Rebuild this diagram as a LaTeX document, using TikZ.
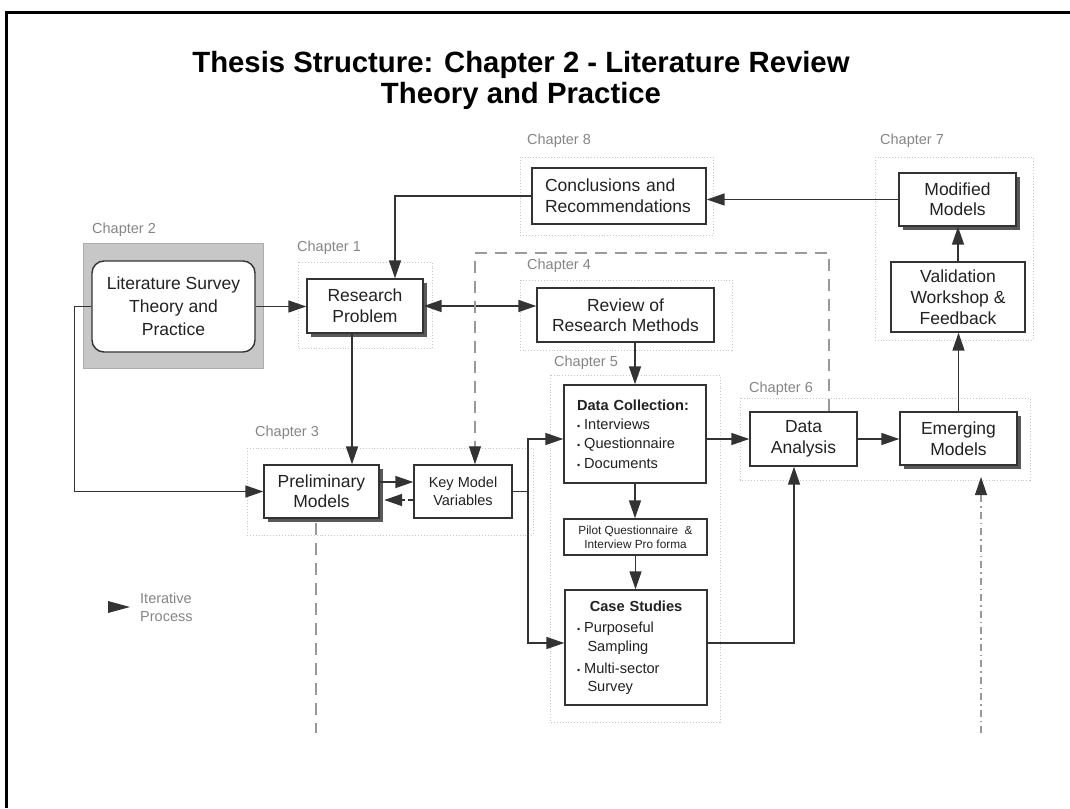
\documentclass[tikz,border=0pt]{standalone}
\usepackage{fontspec}
\setmainfont{Liberation Sans}
\usetikzlibrary{arrows.meta,shadows,calc}

\definecolor{ink}{HTML}{222222}
\definecolor{edge}{HTML}{333333}
\definecolor{chap}{HTML}{858585}

% small bullet used in the item lists
\newcommand\itemdot{{\fontsize{9}{9}\selectfont\textbullet}\hspace{4pt}}

\tikzset{
  box/.style={draw=edge, line width=1.4pt, fill=white, inner sep=0pt, text=ink,
    align=center, font=\fontsize{17.5}{21}\selectfont},
  shadowbox/.style={box, drop shadow={shadow xshift=4pt, shadow yshift=-4pt, fill=black!65, opacity=1}},
  tip/.style={-{Triangle[length=18pt,width=12pt,color=edge]}},
  arr/.style={draw=edge, line width=1.6pt, tip},
  link/.style={draw=edge, line width=1.6pt},
  chaplabel/.style={anchor=west, text=chap, inner sep=0pt, font=\fontsize{14.5}{16}\selectfont},
  group/.style={draw=black!22, dotted, line width=0.9pt},
  guide/.style={draw=black!40, line width=1.1pt, dash pattern=on 12pt off 8pt},
  guidedot/.style={draw=black!40, line width=1.1pt, dash pattern=on 7pt off 4pt on 1.5pt off 4pt},
}

\begin{document}
\begin{tikzpicture}[x=1pt,y=-1pt]
\useasboundingbox (0,0) rectangle (1070,808);

% page frame
\draw[line width=3pt, black] (1070,13) -- (6,13) -- (6,808);

% title
\node[anchor=base, inner sep=0pt, font=\bfseries\fontsize{29.3}{30}\selectfont] (title1) at (521,73) {Thesis Structure: Chapter 2 - Literature Review};
\node[anchor=base, inner sep=0pt, font=\bfseries\fontsize{29.3}{30}\selectfont] (title2) at (521,103) {Theory and Practice};

% faint chapter groupings
\draw[group] (520,157) rectangle (713,235);
\draw[group] (875,157) rectangle (1033,340);
\draw[group] (298,262) rectangle (432,348);
\draw[group] (520,280) rectangle (732,350);
\draw[group] (550,375) rectangle (720,722);
\draw[group] (247,448) rectangle (533,535);
\draw[group] (740,398) rectangle (1030,480);

% chapter labels
\node[chaplabel] (ch8) at (527,141) {Chapter 8};
\node[chaplabel] (ch7) at (880,141) {Chapter 7};
\node[chaplabel] (ch2) at (92,230) {Chapter 2};
\node[chaplabel] (ch1) at (297,248) {Chapter 1};
\node[chaplabel] (ch4) at (527,266) {Chapter 4};
\node[chaplabel] (ch5) at (554,363) {Chapter 5};
\node[chaplabel] (ch6) at (749,389) {Chapter 6};
\node[chaplabel] (ch3) at (255,433) {Chapter 3};

% literature survey block
\node[fill=black!22, draw=black!32, line width=1pt, inner sep=0pt, minimum width=180pt, minimum height=125pt] (litbg) at (173,305.5) {};
\node[box, rounded corners=12pt, minimum width=163pt, minimum height=91pt, font=\fontsize{17.5}{23}\selectfont] (lit) at (173.5,306.5) {Literature Survey\\Theory and\\Practice};

% boxes
\node[shadowbox, minimum width=116pt, minimum height=54pt] (rp) at (365,306) {Research\\Problem};
\node[box, minimum width=174pt, minimum height=56pt, align=left, text width=148pt] (concl) at (619,196) {Conclusions and\\Recommendations};
\node[shadowbox, minimum width=117pt, minimum height=53pt, font=\fontsize{17.5}{20}\selectfont] (modified) at (957.5,199.5) {Modified\\Models};
\node[box, minimum width=177pt, minimum height=54pt, font=\fontsize{17.5}{20}\selectfont] (review) at (625.5,315) {Review of\\Research Methods};
\node[box, minimum width=134pt, minimum height=70pt] (validation) at (958,297) {Validation\\Workshop \&\\Feedback};
\node[box, minimum width=142pt, minimum height=98pt, align=left, text width=116pt, font=\fontsize{14.6}{19.3}\selectfont] (dc) at (635,434)
  {\textbf{Data Collection:}\\\itemdot Interviews\\\itemdot Questionnaire\\\itemdot Documents};
\node[box, minimum width=107pt, minimum height=54pt] (da) at (803.5,439) {Data\\Analysis};
\node[shadowbox, minimum width=117pt, minimum height=53pt] (emerging) at (958.5,438.5) {Emerging\\Models};
\node[shadowbox, minimum width=115pt, minimum height=53pt, font=\fontsize{17.5}{20}\selectfont] (prelim) at (321.5,491.5) {Preliminary\\Models};
\node[box, minimum width=98pt, minimum height=53pt, font=\fontsize{14.5}{18}\selectfont] (key) at (463,491.5) {Key Model\\Variables};
\node[box, minimum width=143pt, minimum height=36pt, font=\fontsize{11.8}{14}\selectfont] (pilot) at (635.5,537) {Pilot Questionnaire \ \&\\Interview Pro forma};
\node[box, minimum width=142pt, minimum height=115pt, align=left, text width=118pt, font=\fontsize{14.6}{18.5}\selectfont] (case) at (636,647.5)
  {\makebox[118pt][c]{\textbf{Case Studies}}\\[3pt]\itemdot Purposeful\\\hspace*{10.5pt}Sampling\\[3.5pt]\itemdot Multi-sector\\\hspace*{10.5pt}Survey};

% helper coordinates for off-centre connectors
\coordinate (rpdown) at (352,0);
\coordinate (conclx) at (395,0);
\coordinate (split) at (528,491.5);
\coordinate (yDC) at (0,439);
\coordinate (yCS) at (0,643);
\coordinate (csup) at (794,0);
\coordinate (yPK1) at (0,482);
\coordinate (yPK2) at (0,500);
\coordinate (pshadow) at ([xshift=4.5pt]prelim.east);
\coordinate (gtl) at (475,253);
\coordinate (gtr) at (829,253);
\coordinate (pdash) at (316,733);
\coordinate (pbot) at ([yshift=-4pt]prelim.south);
\coordinate (ebot) at (981,733);
\coordinate (etip) at (981,477);

% connectors
\draw[arr] (lit.east) -- (rp.west |- lit.east);
\draw[arr] (lit.west) -- ++(-17,0) |- (prelim.west);
\draw[arr] (concl.west) -| (rp.north -| conclx);
\draw[arr, {Triangle[length=18pt,width=12pt,color=edge]}-{Triangle[length=18pt,width=12pt,color=edge]}] (rp.east) -- (rp.east -| review.west);
\draw[arr] (modified.west) -- (modified.west -| concl.east);
\draw[arr] (rp.south -| rpdown) -- (prelim.north -| rpdown);
\draw[arr] (dc.north |- review.south) -- (dc.north);
\draw[arr] (dc.south) -- (dc.south |- pilot.north);
\draw[arr] (pilot.south) -- (pilot.south |- case.north);
\draw[link] (key.east) -- (split);
\draw[arr] (split) |- (dc.west |- yDC);
\draw[arr] (split) |- (case.west |- yCS);
\draw[arr] (dc.east |- yDC) -- (da.west |- yDC);
\draw[arr] (case.east |- yCS) -| (da.south -| csup);
\draw[arr] (da.east) -- (da.east -| emerging.west);
\draw[arr] (emerging.north) -- (emerging.north |- validation.south);
\draw[arr] (validation.north) -- (validation.north |- modified.south);
\draw[arr] (prelim.east |- yPK1) -- (key.west |- yPK1);
\draw[arr, dash pattern=on 5pt off 3pt] (key.west |- yPK2) -- (pshadow |- yPK2);

% iteration guides
\draw[guide, tip] (da.north -| gtr) -- (gtr) -- (gtl) -- (key.north -| gtl);
\draw[guide] (pbot -| pdash) -- (pdash);
\draw[guidedot, tip] (ebot) -- (etip);

% legend
\fill[edge] (108,601) -- (130,607) -- (108,613) -- cycle;
\node[anchor=west, align=left, inner sep=0pt, text=chap, font=\fontsize{14.5}{18}\selectfont] (legend) at (140,607) {Iterative\\Process};

\end{tikzpicture}
\end{document}
